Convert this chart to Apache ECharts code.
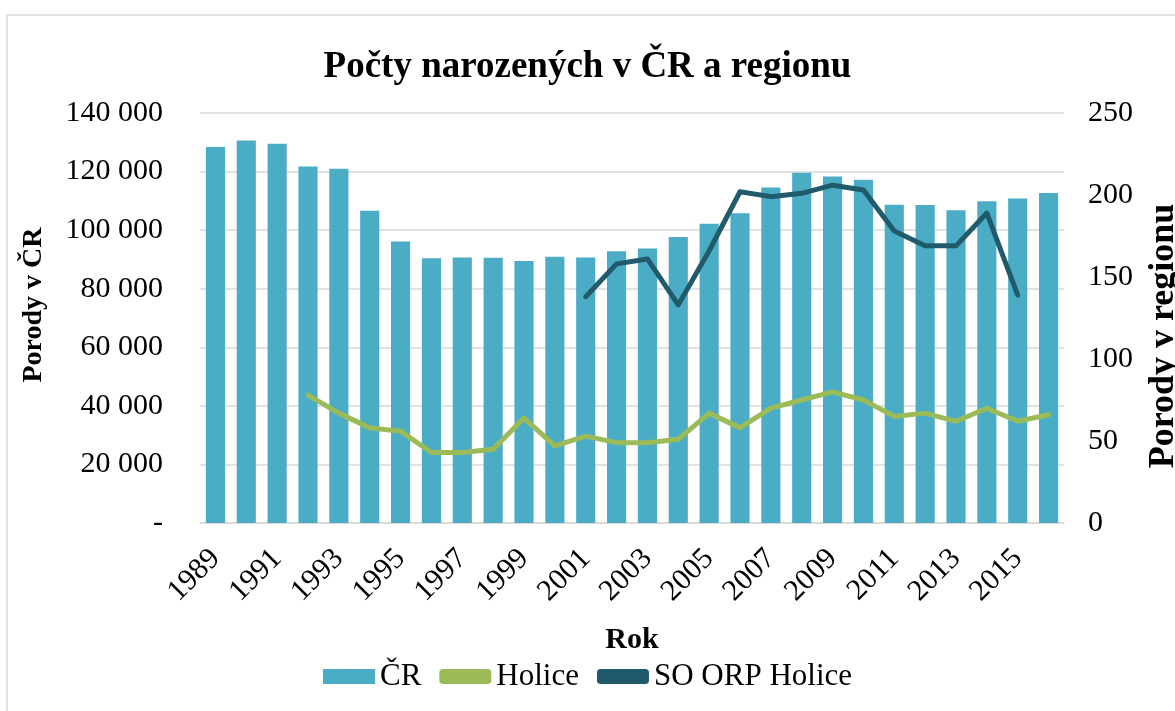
<!DOCTYPE html>
<html>
<head>
<meta charset="utf-8">
<script src="https://cdn.jsdelivr.net/npm/echarts@6/dist/echarts.min.js"></script>
<style>
  html, body { margin: 0; padding: 0; background: #fff; }
  #chartDom { width: 1175px; height: 711px; }
</style>
</head>
<body>
<div id="chartDom"></div>
<script>
// data
var years = ['1989','1990','1991','1992','1993','1994','1995','1996','1997','1998','1999','2000','2001','2002',
             '2003','2004','2005','2006','2007','2008','2009','2010','2011','2012','2013','2014','2015','2016'];
var cr = [128400, 130600, 129500, 121700, 121000, 106600, 96100, 90400, 90700, 90600, 89500, 90900, 90700, 92800,
          93700, 97700, 102200, 105800, 114600, 119600, 118300, 117200, 108700, 108600, 106800, 109900, 110800, 112700];
var holice = [null, null, null, 78, 67, 58, 56, 43, 43, 45, 64, 47, 53, 49,
              49, 51, 67, 58, 70, 75, 80, 75, 65, 67, 62, 70, 62, 66];
var soOrp = [null, null, null, null, null, null, null, null, null, null, null, null, 138, 158,
             161, 133, 166, 202, 199, 201, 206, 203, 178, 169, 169, 189, 139, null];
var leftTicks = { min: 0, max: 140000, step: 20000 };
var rightTicks = { min: 0, max: 250, step: 50 };

var font = 'Liberation Serif';
var chart = echarts.init(document.getElementById('chartDom'));

function thousands(v) {
    if (v === 0) return '-';
    return String(v).replace(/\B(?=(\d{3})+(?!\d))/g, ' ');
}

chart.setOption({
    backgroundColor: '#fff',
    textStyle: { fontFamily: font, color: '#000' },
    title: {
        text: 'Počty narozených v ČR a regionu',
        left: 'center',
        top: 44,
        textStyle: { fontFamily: font, fontSize: 37, fontWeight: 'bold', color: '#000' }
    },
    graphic: [{
        type: 'polyline',
        shape: { points: [[7, 711], [7, 15], [1175, 15]] },
        style: { stroke: '#d9d9d9', lineWidth: 1.5, fill: null },
        silent: true
    }],
    legend: {
        bottom: 14,
        left: 'center',
        itemWidth: 52,
        itemHeight: 15,
        itemGap: 18,
        textStyle: { fontFamily: font, fontSize: 31, color: '#000' },
        data: [
            { name: 'ČR', icon: 'rect' },
            { name: 'Holice', icon: 'roundRect', itemStyle: { color: '#9bbb59' } },
            { name: 'SO ORP Holice', icon: 'roundRect' }
        ]
    },
    grid: { left: 200, right: 111, top: 113, bottom: 188, outerBoundsMode: 'none', containLabel: false },
    xAxis: {
        type: 'category',
        data: years,
        name: 'Rok',
        nameLocation: 'middle',
        nameGap: 102,
        nameTextStyle: { fontFamily: font, fontSize: 30, fontWeight: 'bold', color: '#000' },
        axisLine: { lineStyle: { color: '#d9d9d9', width: 1.5 } },
        axisTick: { show: false },
        axisLabel: { interval: 1, rotate: 45, margin: 31, fontFamily: font, fontSize: 30, color: '#000' }
    },
    yAxis: [{
        type: 'value',
        min: leftTicks.min,
        max: leftTicks.max,
        interval: leftTicks.step,
        name: 'Porody v ČR',
        nameLocation: 'middle',
        nameRotate: 90,
        nameGap: 152,
        nameTextStyle: { fontFamily: font, fontSize: 28, fontWeight: 'bold', color: '#000', padding: [0, 0, 0, 26] },
        axisLine: { show: false },
        axisTick: { show: false },
        axisLabel: { margin: 37, fontFamily: font, fontSize: 30, color: '#000', formatter: thousands },
        splitLine: { lineStyle: { color: '#d9d9d9', width: 1.5 } }
    }, {
        type: 'value',
        min: rightTicks.min,
        max: rightTicks.max,
        interval: rightTicks.step,
        name: 'Porody v regionu',
        nameLocation: 'middle',
        nameRotate: 90,
        nameGap: 82,
        nameTextStyle: { fontFamily: font, fontSize: 36, fontWeight: 'bold', color: '#000', padding: [0, 36, 0, 0] },
        axisLine: { show: false },
        axisTick: { show: false },
        axisLabel: { margin: 24, fontFamily: font, fontSize: 30, color: '#000' },
        splitLine: { show: false }
    }],
    series: [{
        name: 'ČR',
        type: 'bar',
        data: cr,
        barWidth: '62%',
        itemStyle: { color: '#4bacc6' }
    }, {
        name: 'Holice',
        type: 'line',
        yAxisIndex: 1,
        data: holice,
        symbol: 'none',
        lineStyle: { color: '#9bbb59', width: 5, cap: 'round', join: 'round' },
        itemStyle: { color: '#9bbb59' }
    }, {
        name: 'SO ORP Holice',
        type: 'line',
        yAxisIndex: 1,
        data: soOrp,
        symbol: 'none',
        lineStyle: { color: '#215b6b', width: 5, cap: 'round', join: 'round' },
        itemStyle: { color: '#215b6b' }
    }]
});
</script>
</body>
</html>
